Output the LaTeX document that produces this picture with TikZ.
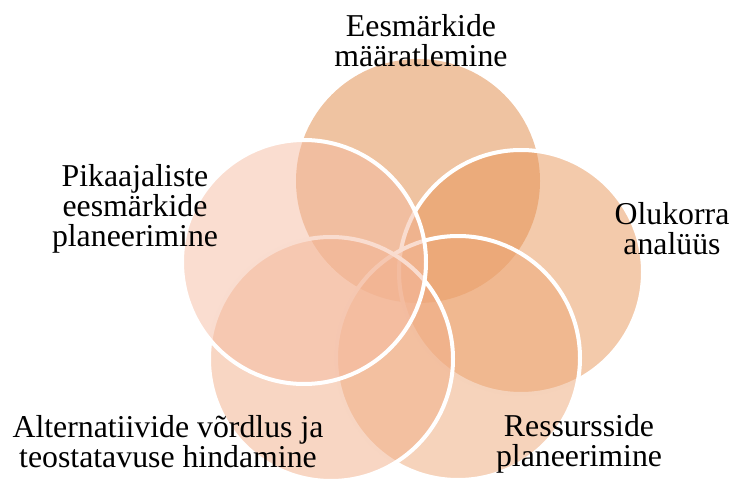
\documentclass[tikz,border=0pt]{standalone}
\usepackage{fontspec}
\setmainfont{Liberation Serif}
\definecolor{ringA}{RGB}{223,135,67}
\definecolor{ringB}{RGB}{231,149,87}
\definecolor{ringC}{RGB}{237,167,119}
\definecolor{ringD}{RGB}{241,173,135}
\definecolor{ringE}{RGB}{245,187,161}

\begin{document}
\begin{tikzpicture}[x=0.5pt,y=-0.5pt]
\tikzset{ring/.style={fill opacity=0.5, draw=white, line width=2pt},
  lbl/.style={inner sep=0pt, align=center, anchor=base,
    font=\fontsize{15.9}{15}\selectfont}}
\useasboundingbox (0,0) rectangle (734,481);
% the five rings, top one first
\fill [ringA, fill opacity=0.5] (418,181) circle (122);
\filldraw [ring, fill=ringB] (521,272) circle (122);
\filldraw [ring, fill=ringC] (458,358) circle (122);
\filldraw [ring, fill=ringD] (331,359) circle (122);
\filldraw [ring, fill=ringE] (304,262) circle (122);
% labels
\node [lbl] (goals) at (421,67) {Eesmärkide\\määratlemine};
\node [lbl] (situation) at (672,254) {Olukorra\\analüüs};
\node [lbl] (resources) at (579,466) {Ressursside\\planeerimine};
\node [lbl] (options) at (168,467) {Alternatiivide võrdlus ja\\teostatavuse hindamine};
\node [lbl] (longterm) at (135,246) {Pikaajaliste\\eesmärkide\\planeerimine};
\end{tikzpicture}
\end{document}
